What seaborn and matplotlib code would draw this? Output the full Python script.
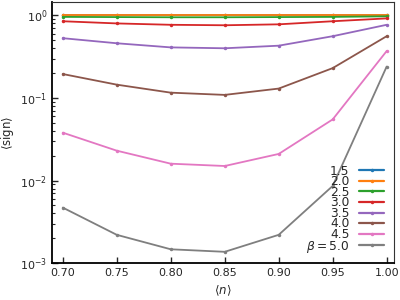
import numpy as np
import pandas as pd
import matplotlib
matplotlib.use("Agg")
import matplotlib.pyplot as plt
import seaborn as sns

n_vals = [0.70, 0.75, 0.80, 0.85, 0.90, 0.95, 1.00]
betas = ["1.5", "2.0", "2.5", "3.0", "3.5", "4.0", "4.5", "5.0"]
sign_b15 = [1.00, 1.00, 1.00, 1.00, 1.00, 1.00, 1.00]
sign_b20 = [1.00, 1.00, 1.00, 1.00, 1.00, 1.00, 1.00]
sign_b25 = [0.96, 0.955, 0.95, 0.95, 0.955, 0.96, 0.975]
sign_b30 = [0.85, 0.80, 0.77, 0.76, 0.78, 0.85, 0.92]
sign_b35 = [0.53, 0.46, 0.41, 0.40, 0.43, 0.56, 0.77]
sign_b40 = [0.195, 0.145, 0.116, 0.109, 0.13, 0.23, 0.56]
sign_b45 = [0.038, 0.023, 0.016, 0.015, 0.021, 0.055, 0.37]
sign_b50 = [0.0047, 0.0022, 0.00147, 0.00137, 0.0022, 0.0086, 0.24]
series = [sign_b15, sign_b20, sign_b25, sign_b30, sign_b35, sign_b40, sign_b45, sign_b50]

rows = []
for b, vals in zip(betas, series):
    lab = r"$\beta = $" + b if b == "5.0" else b
    for x, v in zip(n_vals, vals):
        rows.append({"n": x, "sign": v, "beta": lab})
df = pd.DataFrame(rows)
hue_order = [r"$\beta = $" + b if b == "5.0" else b for b in betas]

sns.set_style("ticks")
plt.rcParams['font.family'] = ['DejaVu Sans']

fig = plt.figure(figsize=(4, 3), dpi=100)
ax = fig.add_axes([0.13, 0.123, 0.855, 0.87])

palette = sns.color_palette("tab10", 8)
sns.lineplot(data=df, x="n", y="sign", hue="beta", hue_order=hue_order,
             palette=palette, marker="o", markersize=2.5, markeredgewidth=0,
             linewidth=1.3, ax=ax)

ax.set_yscale("log")
ax.set_ylim(1e-3, 1.45)
ax.set_xlim(0.690, 1.0068)
ax.set_xticks(n_vals)
ax.set_xticklabels([f"{v:.2f}" for v in n_vals])
ax.tick_params(axis="both", which="both", direction="in", labelsize=8)
ax.tick_params(axis="both", which="major", length=4, width=1)
ax.tick_params(axis="y", which="minor", length=2.5, width=0.8)
ax.set_xlabel(r"$\langle n\rangle$", fontsize=8.5)
ax.set_ylabel(r"$\langle \mathrm{sign}\rangle$", fontsize=8.5)
ax.yaxis.set_label_coords(-0.105, 0.5)

for s in ["left", "bottom"]:
    ax.spines[s].set_linewidth(1.3)
    ax.spines[s].set_color("black")
for s in ["top", "right"]:
    ax.spines[s].set_linewidth(0.8)
    ax.spines[s].set_color("#333333")

handles, labels = ax.get_legend_handles_labels()
for h in handles:
    h.set_linewidth(1.6)
ax.legend(handles, labels, loc="lower right", bbox_to_anchor=(0.995, 0.0),
          frameon=False, markerfirst=False, fontsize=8.8, labelspacing=-0.2,
          handlelength=2.0, handletextpad=0.8, borderpad=0.2)

fig.savefig("out.png", dpi=100)
